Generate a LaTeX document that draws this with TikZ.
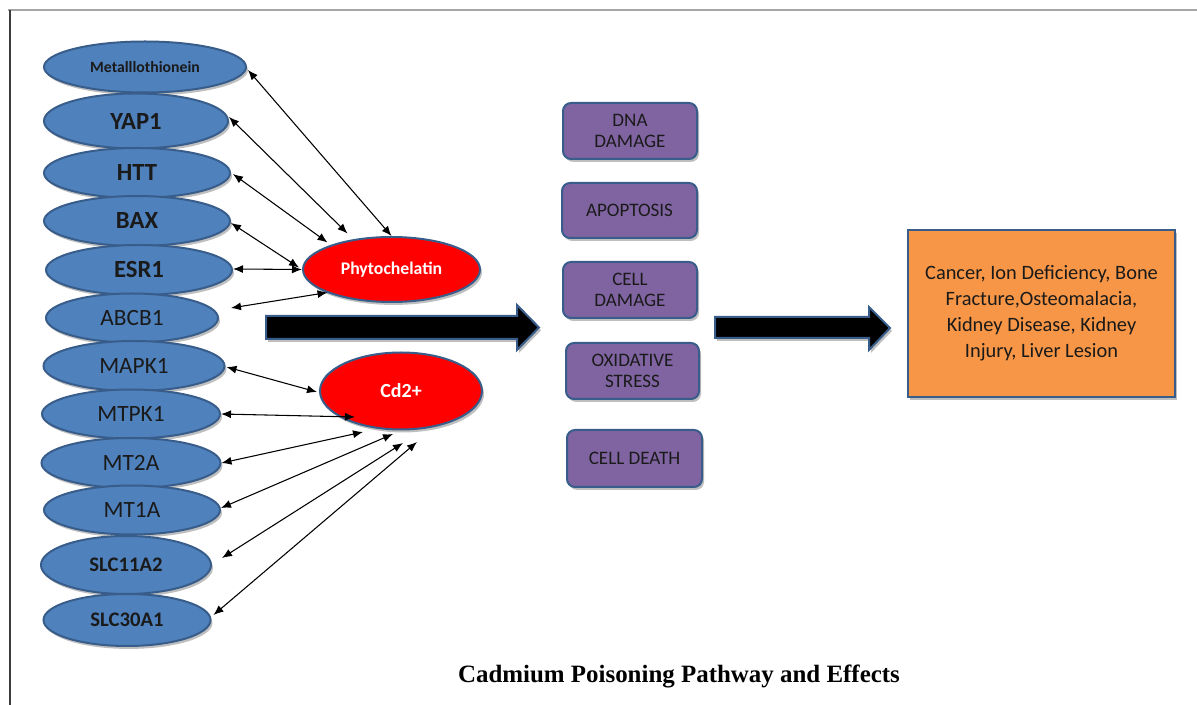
\documentclass[tikz,border=0pt]{standalone}
\usepackage{fontspec}
\setmainfont{Carlito}
\newfontfamily\titlefont{Liberation Serif}
\usetikzlibrary{shapes.geometric,arrows.meta,shadows}

\newdimen\pxu
\pxu=0.75pt

\definecolor{genefill}{HTML}{4F81BD}
\definecolor{edgeblue}{HTML}{385D8A}
\definecolor{metalred}{HTML}{FF0000}
\definecolor{effectpurple}{HTML}{8064A2}
\definecolor{outcomeorange}{HTML}{F79646}
\definecolor{labeldark}{HTML}{1A1A1A}
\definecolor{frametop}{HTML}{A6A6A6}
\definecolor{frameleft}{HTML}{3C3C3C}

\tikzset{
  softshadow/.style={drop shadow={shadow xshift=1.5pt, shadow yshift=-2.2pt, fill=black, opacity=0.25}},
  gene/.style={ellipse, draw=edgeblue, fill=genefill, line width=1.5pt, inner sep=0pt,
    text=labeldark, softshadow},
  genebold/.style={gene, font=\fontsize{18.5pt}{20pt}\selectfont\bfseries},
  genereg/.style={gene, font=\fontsize{17.5pt}{20pt}\selectfont},
  metal/.style={ellipse, draw=edgeblue, fill=metalred, line width=1.5pt, inner sep=0pt,
    text=white, softshadow},
  effect/.style={rectangle, rounded corners=6pt, draw=edgeblue, fill=effectpurple,
    line width=1.5pt, align=center, text=labeldark, minimum width=134\pxu,
    minimum height=56\pxu, font=\fontsize{14.3pt}{16pt}\selectfont, softshadow},
  outcome/.style={rectangle, draw=edgeblue, fill=outcomeorange, line width=1.5pt,
    align=center, text=labeldark, font=\fontsize{15.3pt}{19.5pt}\selectfont, softshadow},
  link/.style={{Latex[length=7.5pt,width=6pt]}-{Latex[length=7.5pt,width=6pt]},
    line width=0.8pt, black},
  bigarrow/.style={fill=black, draw=edgeblue, line width=1.5pt, line join=miter, softshadow},
}

\begin{document}
\begin{tikzpicture}[x=0.75pt, y=-0.75pt]
\useasboundingbox (0,0) rectangle (1197,705);
\fill[white] (0,0) rectangle (1197,705);

% page frame
\draw[frametop, line width=1.4pt] (8,10) -- (1197,10);
\draw[frameleft, line width=1.6pt] (10,10) -- (10,705);

% gene column
\node[genebold, minimum width=202\pxu, minimum height=51\pxu,
      font=\fontsize{11.8pt}{13pt}\selectfont\bfseries] (met) at (145,67) {Metalllothionein};
\node[genebold, minimum width=184\pxu, minimum height=55\pxu] (yap) at (136,121) {YAP1};
\node[genebold, minimum width=186\pxu, minimum height=50\pxu] (htt) at (137,173) {HTT};
\node[genebold, minimum width=186\pxu, minimum height=50\pxu] (bax) at (137,221) {BAX};
\node[genebold, minimum width=186\pxu, minimum height=50\pxu] (esr) at (139,270) {ESR1};
\node[genereg,  minimum width=172\pxu, minimum height=49\pxu] (abcb) at (132,318) {ABCB1};
\node[genereg,  minimum width=181\pxu, minimum height=50\pxu] (mapk) at (134,366) {MAPK1};
\node[genereg,  minimum width=178\pxu, minimum height=49\pxu] (mtpk) at (131,414) {MTPK1};
\node[genereg,  minimum width=179\pxu, minimum height=50\pxu] (mtta) at (131,463) {MT2A};
\node[genereg,  minimum width=176\pxu, minimum height=49\pxu] (mtoa) at (132,510) {MT1A};
\node[genebold, minimum width=170\pxu, minimum height=58\pxu,
      font=\fontsize{15.5pt}{17pt}\selectfont\bfseries] (slca) at (126,565) {SLC11A2};
\node[genebold, minimum width=167\pxu, minimum height=52\pxu,
      font=\fontsize{15.5pt}{17pt}\selectfont\bfseries] (slcb) at (127,620) {SLC30A1};

% chelator and metal ion
\node[metal, minimum width=177\pxu, minimum height=65\pxu,
      font=\fontsize{13.3pt}{15pt}\selectfont\bfseries] (phy) at (391.5,269.5) {Phytochelatin};
\node[metal, minimum width=162\pxu, minimum height=77\pxu,
      font=\fontsize{15pt}{17pt}\selectfont\bfseries] (cd) at (401,391) {Cd2+};

% cellular effects
\node[effect] (dna)  at (630,131)   {DNA\\DAMAGE};
\node[effect, minimum width=135\pxu, minimum height=55\pxu] (apo) at (629.5,210.5) {APOPTOSIS};
\node[effect] (cdam) at (630,290)   {CELL\\DAMAGE};
\node[effect, minimum width=133\pxu] (oxs) at (632.5,371) {OXIDATIVE\\STRESS};
\node[effect, minimum width=135\pxu, minimum height=57\pxu] (cdth) at (634.5,458.5) {CELL DEATH};

% health outcomes
\node[outcome, minimum width=267\pxu, minimum height=167\pxu] (out) at (1041.5,313.5)
  {Cancer, Ion Deficiency, Bone\\Fracture,Osteomalacia,\\Kidney Disease, Kidney\\Injury, Liver Lesion};

% flow arrows between columns
\draw[bigarrow] (266,316) -- (517,316) -- (517,305) -- (539,327.5) -- (517,350)
  -- (517,339) -- (266,339) -- cycle;
\draw[bigarrow] (715,317) -- (869,317) -- (869,307) -- (890,328) -- (869,350)
  -- (869,338) -- (715,338) -- cycle;

% gene <-> phytochelatin interactions
\draw[link] ([shift={(1,3)}]met.east) -- (phy.90);
\draw[link] ([shift={(0,-4)}]yap.east) -- ([shift={(-44,-36)}]phy.center);
\draw[link] ([shift={(2,1)}]htt.east) -- ([shift={(-64,-27)}]phy.center);
\draw[link] ([shift={(0,2)}]bax.east) -- ([shift={(-3,-2)}]phy.west);
\draw[link] ([shift={(0,-1)}]esr.east) -- (phy.west);
\draw[link] ([shift={(12,-10)}]abcb.east) -- ([shift={(-64,23)}]phy.center);

% gene <-> Cd2+ interactions
\draw[link] ([shift={(1,1)}]mapk.east) -- ([shift={(-2,1)}]cd.west);
\draw[link] (mtpk.east) -- ([shift={(-46,26)}]cd.center);
\draw[link] (mtta.east) -- ([shift={(-38,41)}]cd.center);
\draw[link] ([shift={(0,-2)}]mtoa.east) -- ([shift={(-8,43)}]cd.center);
\draw[link] ([shift={(10,-7)}]slca.east) -- ([shift={(2,52)}]cd.center);
\draw[link] ([shift={(2,-5)}]slcb.east) -- ([shift={(16,51)}]cd.center);

% caption
\node[font=\titlefont\fontsize{18.7pt}{22pt}\selectfont\bfseries, text=black] (title)
  at (679,676) {Cadmium Poisoning Pathway and Effects};
\end{tikzpicture}
\end{document}
